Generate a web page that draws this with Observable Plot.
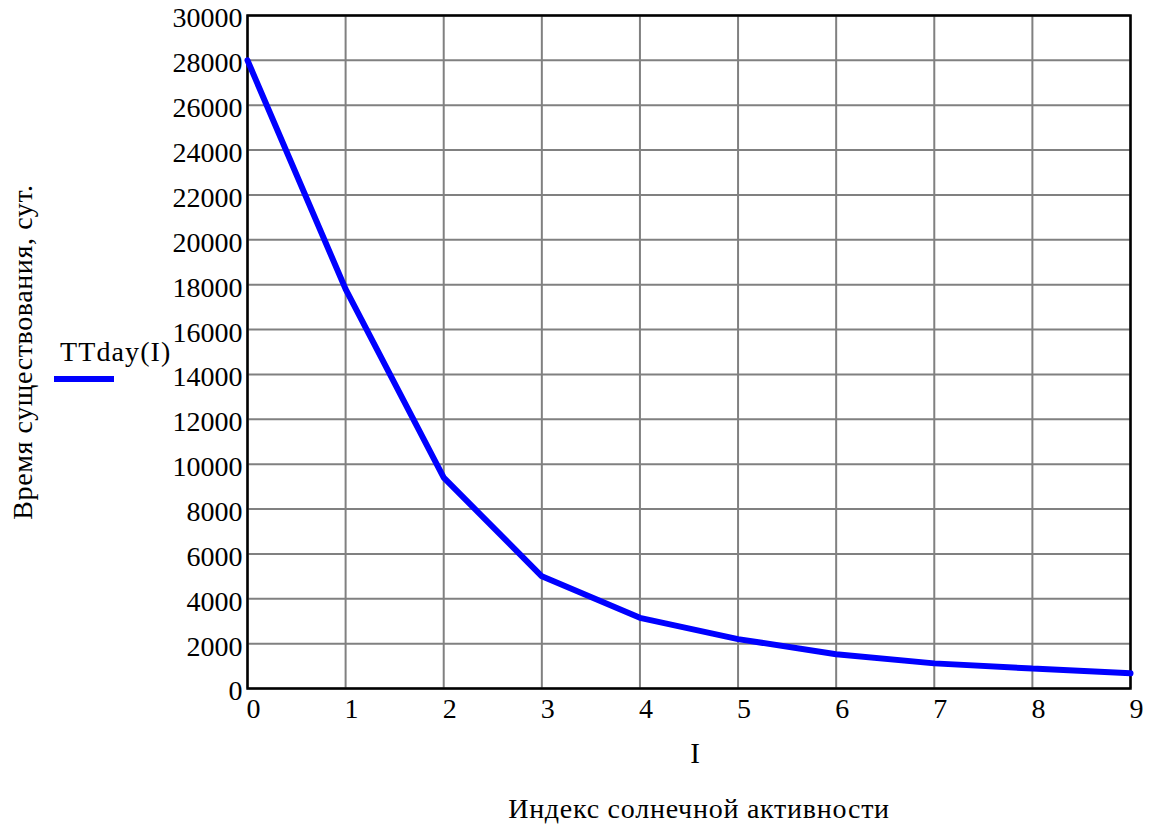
<!DOCTYPE html>
<html>
<head>
<meta charset="utf-8">
<script src="https://cdn.jsdelivr.net/npm/d3@7"></script>
<script src="https://cdn.jsdelivr.net/npm/@observablehq/plot@0.6"></script>
<style>
  body { margin: 0; background: #fff; }
  #wrap { position: relative; width: 1154px; height: 834px; font-family: 'Liberation Serif', 'Times New Roman', serif; }
  #wrap svg, #wrap svg text { font-family: 'Liberation Serif', 'Times New Roman', serif !important; }
  #legend { position: absolute; left: 54px; top: 336px; }
  #legend .lbl { position: absolute; left: 6px; top: 0; font-size: 28px; line-height: 32px; white-space: nowrap; color: #000; letter-spacing: 1.1px; }
  #legend .sw { position: absolute; left: 0; top: 40px; width: 60px; height: 6px; background: #0000ff; }
</style>
</head>
<body>
<div id="wrap"></div>
<script>
const seriesName = "TTday(I)";
const I = [0, 1, 2, 3, 4, 5, 6, 7, 8, 9];
const TTday = [28000, 17800, 9400, 5000, 3150, 2200, 1530, 1120, 890, 680];
const xTicks = [0, 1, 2, 3, 4, 5, 6, 7, 8, 9];
const yTicks = [0, 2000, 4000, 6000, 8000, 10000, 12000, 14000, 16000, 18000, 20000, 22000, 24000, 26000, 28000, 30000];
const yTitle = "Время существования, сут.";
const xTitle = "I";
const xSubtitle = "Индекс солнечной активности";

const data = I.map((d, i) => ({I: d, T: TTday[i]}));

const chart = Plot.plot({
  width: 1154,
  height: 834,
  marginLeft: 247,
  marginRight: 24,
  marginTop: 15,
  marginBottom: 146,
  style: {fontFamily: "'Liberation Serif', 'Times New Roman', serif", fontSize: "28px", color: "#000", background: "#fff"},
  x: {domain: [0, 9]},
  y: {domain: [0, 30000]},
  marks: [
    Plot.gridX(xTicks, {stroke: "#808080", strokeOpacity: 1, strokeWidth: 2}),
    Plot.gridY(yTicks, {stroke: "#808080", strokeOpacity: 1, strokeWidth: 2}),
    Plot.axisX(xTicks, {tickSize: 0, tickPadding: 10, dx: 6, fontSize: 28, label: null, tickFormat: d3.format("d")}),
    Plot.axisY(yTicks, {tickSize: 0, tickPadding: 5, dy: 3, fontSize: 28, label: null, tickFormat: d3.format("d")}),
    Plot.frame({stroke: "#000", strokeWidth: 2.5}),
    Plot.line(data, {x: "I", y: "T", stroke: "#0000ff", strokeWidth: 6, strokeLinejoin: "miter"}),
    Plot.text([yTitle], {frameAnchor: "left", textAnchor: "middle", dx: -224, dy: 0, rotate: -90, fontSize: 28, text: d => d}),
    Plot.text([xTitle], {frameAnchor: "bottom", dx: 6, dy: 74, fontSize: 29, text: d => d}),
    Plot.text([xSubtitle], {frameAnchor: "bottom", dx: 10, dy: 129, fontSize: 28, text: d => d})
  ]
});
d3.select(chart).selectAll("text")
  .filter(function () { return this.textContent === xSubtitle; })
  .attr("letter-spacing", "0.75px");
d3.select(chart).selectAll("text")
  .filter(function () { return this.textContent === yTitle; })
  .attr("letter-spacing", "0.6px");
const wrap = document.getElementById("wrap");
wrap.appendChild(chart);
const leg = document.createElement("div");
leg.id = "legend";
leg.innerHTML = `<div class="lbl"></div><div class="sw"></div>`;
leg.querySelector(".lbl").textContent = seriesName;
wrap.appendChild(leg);
</script>
</body>
</html>
